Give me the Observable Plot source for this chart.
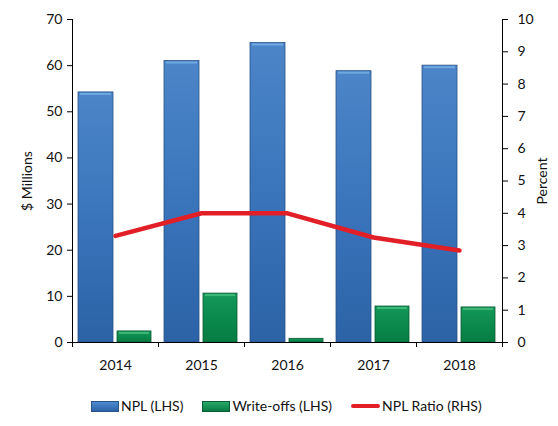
<!DOCTYPE html>
<html><head><meta charset="utf-8">
<script src="https://cdn.jsdelivr.net/npm/d3@7"></script>
<script src="https://cdn.jsdelivr.net/npm/@observablehq/plot@0.6"></script>
<style>
body{margin:0;background:#fff;font-family:Lato,"Open Sans",sans-serif;color:#111;width:558px;height:426px;position:relative;overflow:hidden}
#legend{position:absolute;left:91px;top:397px;display:flex;align-items:center;gap:19px;font-size:14px;line-height:18px}
.item{display:flex;align-items:center;gap:2px}
.sw{width:26px;height:9px;display:inline-block}
</style></head><body><div id="chart"></div><div id="legend"></div>
<script>
const years = [2014, 2015, 2016, 2017, 2018];
const npl = [54.2, 61.0, 64.9, 58.8, 60.0];
const writeOffs = [2.4, 10.6, 0.8, 7.8, 7.6];
const nplRatio = [3.3, 4.0, 4.0, 3.25, 2.85];
const leftTicks = [0, 10, 20, 30, 40, 50, 60, 70];
const rightTicks = [0, 1, 2, 3, 4, 5, 6, 7, 8, 9, 10];
const seriesNames = ["NPL (LHS)", "Write-offs (LHS)", "NPL Ratio (RHS)"];

const ratioFactor = 70 / 10; // right axis 0-10 maps onto left axis 0-70
const data = years.map((y, i) => ({year: y, npl: npl[i], wo: writeOffs[i], ratio: nplRatio[i]}));
const bounds = years.map(y => y - 0.5).concat([years[years.length - 1] + 0.5]);

const chart = Plot.plot({
  width: 558, height: 372,
  marginLeft: 72, marginRight: 56, marginTop: 19, marginBottom: 30,
  style: {fontFamily: "Lato, 'Open Sans', sans-serif", fontSize: "14px", color: "#111", background: "#fff"},
  x: {type: "linear", domain: [bounds[0], bounds[bounds.length - 1]], label: null},
  y: {domain: [0, 70]},
  marks: [
    Plot.rectY(data, {x1: d => d.year - 0.5, x2: d => d.year + 0.5, y: "npl", insetLeft: 6, insetRight: 45, fill: "url(#gBlue)", stroke: "#2a5285", strokeWidth: 0.8}),
    Plot.ruleY(data, {x1: d => d.year - 0.5, x2: d => d.year + 0.5, y: "npl", insetLeft: 8, insetRight: 47, dy: 1.5, stroke: "#6fa9e2", strokeWidth: 2}),
    Plot.rectY(data, {x1: d => d.year - 0.5, x2: d => d.year + 0.5, y: "wo", insetLeft: 45, insetRight: 7, fill: "url(#gGreen)", stroke: "#0a5a34", strokeWidth: 0.8}),
    Plot.ruleY(data.filter(d => d.wo > 1.5), {x1: d => d.year - 0.5, x2: d => d.year + 0.5, y: "wo", insetLeft: 47, insetRight: 9, dy: 1.5, stroke: "#3cb878", strokeWidth: 2}),
    Plot.line(data, {x: "year", y: d => d.ratio * ratioFactor, stroke: "#e21f27", strokeWidth: 4.5, strokeLinejoin: "miter"}),
    Plot.ruleX([bounds[0]], {stroke: "#000", strokeWidth: 1}),
    Plot.ruleX([bounds[bounds.length - 1]], {stroke: "#000", strokeWidth: 1}),
    Plot.ruleY([0], {stroke: "#000", strokeWidth: 1.2}),
    Plot.axisY({anchor: "left", ticks: leftTicks, tickSize: 5, tickPadding: 5, label: "$ Millions", labelAnchor: "center", labelArrow: "none", labelOffset: 50, stroke: "#000"}),
    Plot.axisY({anchor: "right", ticks: rightTicks.map(d => d * ratioFactor), tickFormat: d => String(Math.round(d / ratioFactor)), tickSize: 5, tickPadding: 10, label: "Percent", labelAnchor: "center", labelArrow: "none", labelOffset: 44, stroke: "#000"}),
    Plot.axisX({ticks: bounds, tickSize: 5, tickFormat: () => "", stroke: "#000", label: null}),
    Plot.axisX({ticks: years, tickSize: 0, tickPadding: 18, tickFormat: d => String(d), label: null})
  ]
});
document.getElementById("chart").append(chart);

const defs = d3.select(chart).insert("defs", ":first-child");
function grad(id, stops) {
  const g = defs.append("linearGradient").attr("id", id).attr("x1", 0).attr("x2", 0).attr("y1", 0).attr("y2", 1);
  stops.forEach(([o, c]) => g.append("stop").attr("offset", o).attr("stop-color", c));
}
grad("gBlue", [[0, "#4c86c8"], [0.5, "#3a74bb"], [1, "#2c63a6"]]);
grad("gGreen", [[0, "#15985a"], [0.5, "#0b8a4d"], [1, "#067c43"]]);

const legendItems = [
  {name: seriesNames[0], style: "background:linear-gradient(#4d8ad0,#2d62a8);border:1px solid #2a5285"},
  {name: seriesNames[1], style: "background:linear-gradient(#2aa86a,#067c43);border:1px solid #0a5a34"},
  {name: seriesNames[2], style: "background:#e21f27;height:4px;width:29px;border-radius:2px"}
];
const legend = document.getElementById("legend");
legendItems.forEach(it => {
  const el = document.createElement("div");
  el.className = "item";
  el.innerHTML = `<span class="sw" style="${it.style}"></span><span>${it.name}</span>`;
  legend.append(el);
});
</script>
</body></html>
